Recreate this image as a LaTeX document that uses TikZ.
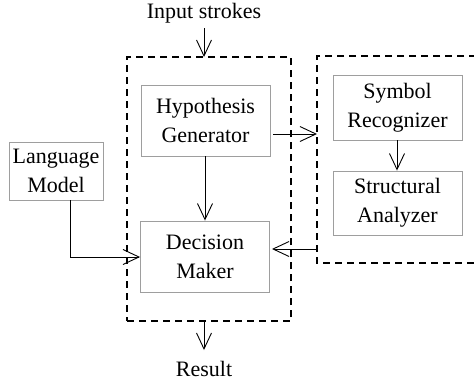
\documentclass[tikz,border=0pt]{standalone}
\usepackage{fontspec}
\setmainfont{Liberation Serif}
\usetikzlibrary{arrows.meta}
\begin{document}
\begin{tikzpicture}[x=1pt,y=-1pt,
  font=\fontsize{22}{29}\selectfont,
  blk/.style={draw=black!38,line width=0.9pt,align=center,inner sep=0pt,fill=white},
  grp/.style={draw=black,line width=1.8pt,dash pattern=on 7pt off 5pt},
  conn/.style={draw=black,line width=0.9pt,-{Straight Barb[length=16pt,width=15pt,line width=0.9pt]}},
  lbl/.style={inner sep=0pt}]
\useasboundingbox (0,0) rectangle (474,383);
% group boxes
\node[grp,minimum width=164pt,minimum height=264pt,inner sep=0pt] (box1) at (209,189) {};
\coordinate (b2tr) at (476,56);
\coordinate (b2tl) at (317,56);
\coordinate (b2bl) at (317,263);
\coordinate (b2br) at (476,263);
\draw[grp] (b2tr) -- (b2tl) -- (b2bl) -- (b2br);
% blocks
\node[blk,minimum width=129pt,minimum height=71pt] (hyp) at (205.5,120.5) {Hypothesis\\Generator};
\node[blk,minimum width=129pt,minimum height=71pt] (dm) at (205,256.5) {Decision\\Maker};
\node[blk,minimum width=94pt,minimum height=58pt] (lm) at (56,171) {Language\\Model};
\node[blk,minimum width=129pt,minimum height=65pt] (sr) at (397.5,107.5) {Symbol\\Recognizer};
\node[blk,minimum width=129pt,minimum height=64pt] (sa) at (397.5,203) {Structural\\Analyzer};
% labels
\node[lbl] (in) at (204,13) {Input strokes};
\node[lbl] (res) at (204,369) {Result};
% connectors
\coordinate (inA) at (204,28);
\coordinate (inB) at (204,57);
\draw[conn] (inA) -- (inB);
\draw[conn] (hyp.south -| 205,0) -- (dm.north -| 205,0);
\coordinate (hypR) at (273,134);
\coordinate (b2L) at (317,134);
\draw[conn] (hypR) -- (b2L);
\coordinate (lmB) at (70,200);
\coordinate (lmC) at (70,257);
\draw[conn] (lmB) -- (lmC) -- (dm.west |- lmC);
\coordinate (b2M) at (317,249);
\coordinate (dmR) at (272,249);
\draw[conn] (b2M) -- (dmR);
\draw[conn] (sr.south -| 397,0) -- (sa.north -| 397,0);
\coordinate (outA) at (204,321);
\coordinate (outB) at (204,350);
\draw[conn] (outA) -- (outB);
\end{tikzpicture}
\end{document}
